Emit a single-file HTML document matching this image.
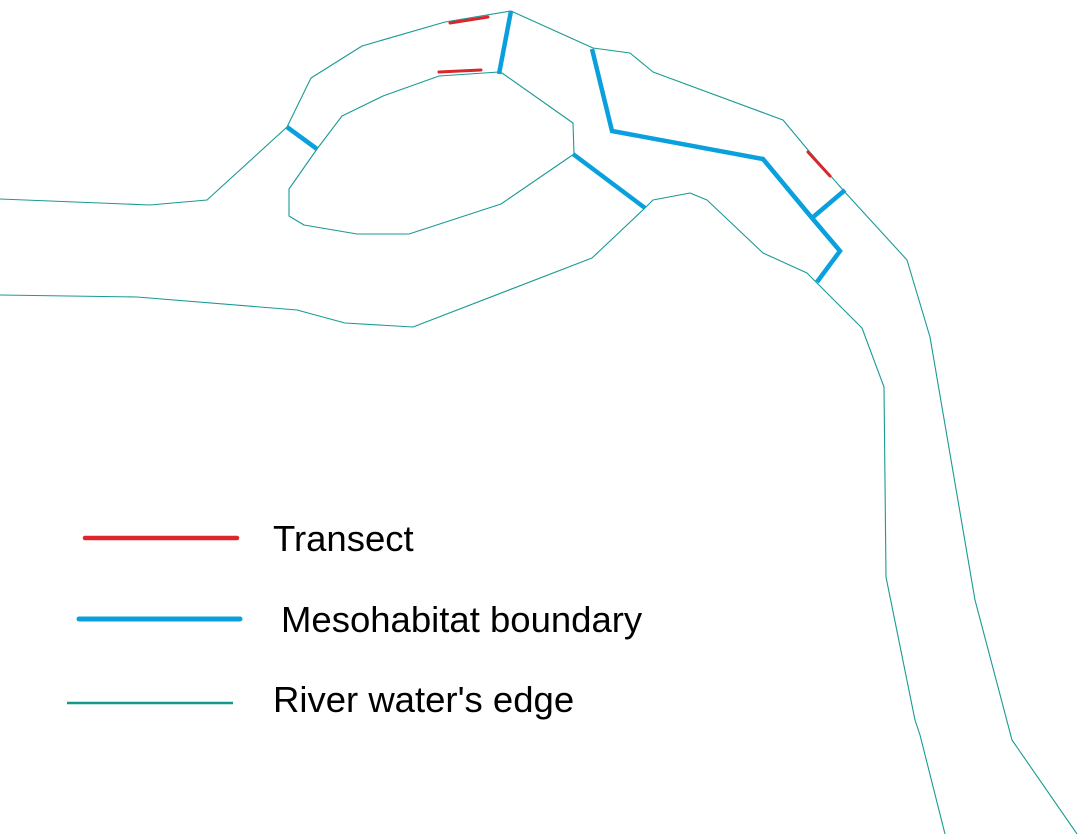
<!DOCTYPE html>
<html><head><meta charset="utf-8"><style>
html,body{margin:0;padding:0;background:#fff;width:1088px;height:834px;overflow:hidden}
svg{display:block}
text{font-family:"Liberation Sans",sans-serif;font-size:36.5px;fill:#000}
</style></head><body>
<svg width="1088" height="834" viewBox="0 0 1088 834">
<g fill="none" stroke="#1a9a94" stroke-width="1.1" stroke-linejoin="round">
<polyline points="0,199 150,205 207,200 287,127 311,78 362,46 445,22 511,11 593,48 630,53 653,72 783,120 808,150 843,190 907,260 930,337 975,600 1012,740 1077,834"/>
<polygon points="317,149 342,116 383,96 439,76 499,72 502,73 573,123 574,154 501,204 409,234 357,234 304,225 289,216 289,189"/>
<polyline points="0,295 137,297 297,310 345,323 413,327 592,258 645,208 653,200 690,193 707,200 763,253 807,273 862,328 884,387 886,577 915,720 920,735 945,834"/>
</g>
<g fill="none" stroke="#0aa0de" stroke-width="4.5" stroke-linecap="butt" stroke-linejoin="miter">
<line x1="287" y1="127" x2="317" y2="149"/>
<line x1="511" y1="11" x2="499" y2="74"/>
<line x1="573" y1="154" x2="645" y2="208"/>
<polyline points="592,49 612,131 763,159 812,218 840,251 817,282"/>
<line x1="812" y1="218" x2="845" y2="190"/>
</g>
<g stroke="#d9262b" stroke-width="3" stroke-linecap="round">
<line x1="450" y1="23" x2="488" y2="17"/>
<line x1="439" y1="72" x2="481" y2="70"/>
<line x1="808" y1="152" x2="830" y2="176"/>
</g>
<line x1="85" y1="538" x2="237" y2="538" stroke="#e0242b" stroke-width="4.5" stroke-linecap="round"/>
<line x1="79" y1="619" x2="240" y2="619" stroke="#0aa0de" stroke-width="5" stroke-linecap="round"/>
<line x1="67" y1="703" x2="233" y2="703" stroke="#16998a" stroke-width="2.5"/>
<text x="273" y="551">Transect</text>
<text x="281" y="632">Mesohabitat boundary</text>
<text x="273" y="712">River water's edge</text>
</svg>
</body></html>
